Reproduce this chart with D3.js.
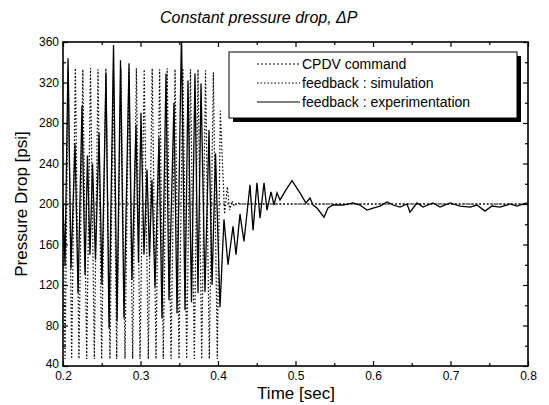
<!DOCTYPE html>
<html lang="en">
<head>
<meta charset="utf-8">
<title>Constant pressure drop</title>
<script src="https://cdn.jsdelivr.net/npm/d3@7"></script>
<style>
  body { margin: 0; background: #fff; }
  text { font-family: "Liberation Sans", Arial, sans-serif; fill: #000; }
</style>
</head>
<body>
<script>

// ---- data ----
var xTicks = [0.2, 0.3, 0.4, 0.5, 0.6, 0.7, 0.8];
var xMinor = [0.25, 0.35, 0.45, 0.55, 0.65, 0.75];
var yTicks = [40, 80, 120, 160, 200, 240, 280, 320, 360];
var yMinor = [60, 100, 140, 180, 220, 260, 300, 340];

var cmdT = [0.2, 0.8];
var cmdP = [200, 200];

var simT = [0.2000, 0.2026, 0.2069, 0.2112, 0.2159, 0.2206, 0.2256, 0.2306, 0.2355, 0.2404,
            0.2452, 0.2499, 0.2553, 0.2606, 0.2650, 0.2693, 0.2747, 0.2800, 0.2850, 0.2899,
            0.2947, 0.2994, 0.3048, 0.3101, 0.3151, 0.3200, 0.3247, 0.3294, 0.3344, 0.3394,
            0.3446, 0.3497, 0.3547, 0.3596, 0.3645, 0.3694, 0.3742, 0.3790, 0.3839, 0.3888,
            0.3940, 0.3991, 0.4030, 0.4085, 0.4120, 0.4150, 0.4180, 0.4210, 0.4250, 0.4300, 0.8000];
var simP = [200, 47, 333, 47, 334, 47, 333, 47, 334, 47,
            333, 47, 334, 47, 333, 47, 334, 47, 333, 47,
            334, 47, 333, 47, 334, 47, 333, 47, 334, 47,
            333, 47, 334, 47, 333, 47, 333, 47, 332, 47,
            330, 47, 292, 190, 217, 194, 203, 198, 201, 200, 200];

var expT = [0.2000, 0.2026, 0.2065, 0.2103, 0.2155, 0.2194, 0.2245, 0.2284, 0.2316, 0.2348,
            0.2381, 0.2419, 0.2465, 0.2503, 0.2555, 0.2594, 0.2652, 0.2697, 0.2742, 0.2787,
            0.2852, 0.2890, 0.2942, 0.2974, 0.3006, 0.3045, 0.3084, 0.3116, 0.3148, 0.3187,
            0.3239, 0.3277, 0.3329, 0.3368, 0.3432, 0.3471, 0.3529, 0.3574, 0.3613, 0.3658,
            0.3703, 0.3742, 0.3781, 0.3832, 0.3884, 0.3923, 0.3968, 0.4026, 0.4077, 0.4129,
            0.4194, 0.4232, 0.4284, 0.4335, 0.4413, 0.4452, 0.4503, 0.4542, 0.4594, 0.4632,
            0.4684, 0.4723, 0.4761, 0.4800, 0.4877, 0.4955, 0.5058, 0.5135, 0.5187, 0.5226,
            0.5277, 0.5368, 0.5419, 0.5484, 0.5613, 0.5742, 0.5832, 0.5923, 0.6000, 0.6090,
            0.6181, 0.6258, 0.6348, 0.6439, 0.6477, 0.6568, 0.6645, 0.6774, 0.6865, 0.6994,
            0.7123, 0.7252, 0.7342, 0.7445, 0.7535, 0.7639, 0.7768, 0.7858, 0.7987, 0.8000];
var expP = [200, 140, 344, 136, 260, 112, 297, 130, 248, 150,
            240, 145, 270, 120, 329, 77, 357, 85, 342, 87,
            339, 125, 278, 142, 290, 150, 234, 148, 224, 118,
            266, 87, 329, 105, 300, 92, 370, 95, 322, 103,
            329, 112, 319, 113, 273, 120, 250, 98, 185, 140,
            178, 150, 190, 163, 219, 174, 221, 186, 221, 194,
            212, 199, 211, 204, 214, 223, 211, 201, 206, 199,
            196, 187, 196, 199, 199, 201, 199, 194, 196, 198,
            202, 199, 197, 200, 192, 201, 197, 201, 197, 201,
            198, 197, 199, 193, 198, 197, 200, 198, 201, 200];

var legendNames = ["CPDV command", "feedback : simulation", "feedback : experimentation"];
var legendDash = ["2,2", "1.5,2", null];

// ---- layout ----
var width = 549, height = 405;
var margin = {top: 42, right: 21, bottom: 39, left: 63};

var svg = d3.select("body").append("svg")
  .attr("width", width)
  .attr("height", height);

var x = d3.scaleLinear().domain([0.2, 0.8]).range([margin.left, width - margin.right]);
var y = d3.scaleLinear().domain([40, 360]).range([height - margin.bottom, margin.top]);

svg.append("defs").append("clipPath").attr("id", "plot")
  .append("rect")
  .attr("x", x(0.2)).attr("y", y(360))
  .attr("width", x(0.8) - x(0.2)).attr("height", y(40) - y(360));

var line = d3.line()
  .x(function(d){ return x(d[0]); })
  .y(function(d){ return y(d[1]); });

var plot = svg.append("g").attr("clip-path", "url(#plot)");

plot.append("path")
  .datum(d3.zip(simT, simP))
  .attr("d", line)
  .attr("fill", "none")
  .attr("stroke", "#000")
  .attr("stroke-width", 1.2)
  .attr("stroke-dasharray", "1.5,2");

plot.append("path")
  .datum(d3.zip(cmdT, cmdP))
  .attr("d", line)
  .attr("fill", "none")
  .attr("stroke", "#000")
  .attr("stroke-width", 1.1)
  .attr("stroke-dasharray", "2,2");

plot.append("path")
  .datum(d3.zip(expT, expP))
  .attr("d", line)
  .attr("fill", "none")
  .attr("stroke", "#000")
  .attr("stroke-width", 1.3);

// ---- axes (inward ticks on all sides) ----
function tidy(g) {
  g.select(".domain").remove();
  g.selectAll(".tick line").attr("stroke", "#000").attr("stroke-width", 1.2);
  g.selectAll("text").attr("font-size", "12px");
}

svg.append("g")
  .attr("transform", "translate(0," + y(40) + ")")
  .call(d3.axisBottom(x).tickValues(xTicks).tickSize(-5).tickPadding(5).tickFormat(d3.format(".1f")))
  .call(tidy);
svg.append("g")
  .attr("transform", "translate(0," + y(40) + ")")
  .call(d3.axisBottom(x).tickValues(xMinor).tickSize(-3).tickFormat(""))
  .call(tidy);
svg.append("g")
  .attr("transform", "translate(0," + y(360) + ")")
  .call(d3.axisTop(x).tickValues(xTicks).tickSize(-5).tickFormat(""))
  .call(tidy);
svg.append("g")
  .attr("transform", "translate(0," + y(360) + ")")
  .call(d3.axisTop(x).tickValues(xMinor).tickSize(-3).tickFormat(""))
  .call(tidy);

var yAxisG = svg.append("g")
  .attr("transform", "translate(" + x(0.2) + ",0)")
  .call(d3.axisLeft(y).tickValues(yTicks).tickSize(-5).tickPadding(4))
  .call(tidy);
// the bottom label sits a little higher so it clears "0.2"
yAxisG.selectAll(".tick text").filter(function(d){ return d === 40; }).attr("dy", "0.1em");

svg.append("g")
  .attr("transform", "translate(" + x(0.2) + ",0)")
  .call(d3.axisLeft(y).tickValues(yMinor).tickSize(-3).tickFormat(""))
  .call(tidy);
svg.append("g")
  .attr("transform", "translate(" + x(0.8) + ",0)")
  .call(d3.axisRight(y).tickValues(yTicks).tickSize(-5).tickFormat(""))
  .call(tidy);
svg.append("g")
  .attr("transform", "translate(" + x(0.8) + ",0)")
  .call(d3.axisRight(y).tickValues(yMinor).tickSize(-3).tickFormat(""))
  .call(tidy);

// frame
svg.append("rect")
  .attr("x", x(0.2)).attr("y", y(360))
  .attr("width", x(0.8) - x(0.2)).attr("height", y(40) - y(360))
  .attr("fill", "none")
  .attr("stroke", "#000")
  .attr("stroke-width", 1.6);

// ---- legend ----
var lg = svg.append("g").attr("transform", "translate(229,52)");
lg.append("rect").attr("x", 4).attr("y", 4).attr("width", 288).attr("height", 66).attr("fill", "#000");
lg.append("rect").attr("x", 0).attr("y", 0).attr("width", 288).attr("height", 66)
  .attr("fill", "#fff").attr("stroke", "#000").attr("stroke-width", 1);

var rows = lg.selectAll("g.row").data(legendNames).enter().append("g")
  .attr("transform", function(d, i){ return "translate(0," + (12 + i * 19) + ")"; });
rows.append("line")
  .attr("x1", 28).attr("x2", 71).attr("y1", 0).attr("y2", 0)
  .attr("stroke", "#000").attr("stroke-width", 1.1)
  .attr("stroke-dasharray", function(d, i){ return legendDash[i]; });
rows.append("text")
  .attr("x", 73).attr("y", 5)
  .attr("font-size", "14px")
  .text(function(d){ return d; });

// ---- titles ----
svg.append("text")
  .attr("x", 160).attr("y", 23)
  .attr("font-size", "16px")
  .attr("font-style", "italic")
  .text("Constant pressure drop, \u0394P");

svg.append("text")
  .attr("x", 296).attr("y", 399)
  .attr("text-anchor", "middle")
  .attr("font-size", "17px")
  .text("Time [sec]");

svg.append("text")
  .attr("transform", "translate(27," + ((y(40) + y(360)) / 2) + ") rotate(-90)")
  .attr("text-anchor", "middle")
  .attr("font-size", "17px")
  .text("Pressure Drop [psi]");

</script>
</body>
</html>
